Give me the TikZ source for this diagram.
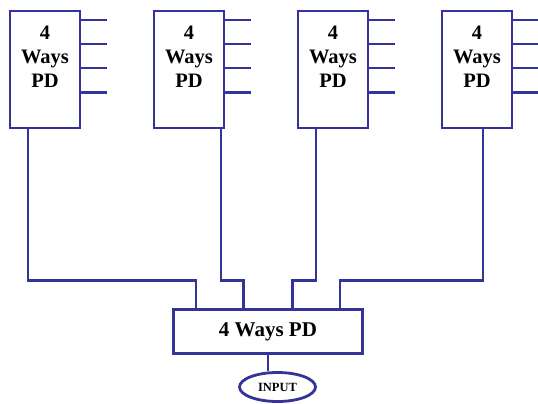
\documentclass[tikz,border=0pt]{standalone}
\usepackage{fontspec}
\setmainfont{Liberation Serif}
\usetikzlibrary{positioning,shapes.geometric}
\definecolor{pdblue}{RGB}{51,51,153}

\begin{document}
\begin{tikzpicture}[x=1pt,y=-1pt,line width=2.8pt]
  \tikzstyle{pdbox}=[draw=pdblue,rectangle,minimum width=70pt,minimum height=117pt,inner sep=0pt]
  \tikzstyle{pdtext}=[align=center,inner sep=0pt,font=\fontsize{20.5}{24}\selectfont\bfseries]
  \tikzstyle{wire}=[draw=pdblue]
\useasboundingbox (0,0) rectangle (538,404);
\node[pdbox] (pd1) at (45,69.5) {};
\node[pdbox] (pd2) at (189,69.5) {};
\node[pdbox] (pd3) at (333,69.5) {};
\node[pdbox] (pd4) at (477,69.5) {};
\node[pdtext] (t1) [below=15pt of pd1.north] {4\\Ways\\PD};
\node[pdtext] (t2) [below=15pt of pd2.north] {4\\Ways\\PD};
\node[pdtext] (t3) [below=15pt of pd3.north] {4\\Ways\\PD};
\node[pdtext] (t4) [below=15pt of pd4.north] {4\\Ways\\PD};
\node[pdbox,minimum width=189pt,minimum height=44pt,font=\fontsize{21}{24}\selectfont\bfseries] (main) at (268,331.5) {4 Ways PD};
\node[draw=pdblue,ellipse,minimum width=76pt,minimum height=29pt,inner sep=0pt,font=\fontsize{12.5}{14}\selectfont\bfseries] (in) at (277.5,387) {INPUT};
% outputs
\foreach \i in {1,...,4}
  \foreach \k in {0,...,3}
    \draw[wire] ([yshift=-10.5pt-24pt*\k]pd\i.north east) -- ++(26,0);
% feeds
\foreach \i/\a/\b in {1/-17/-72,2/32/-24.5,3/-17/24.5,4/6/72}
  \draw[wire] ([xshift=\a pt]pd\i.south) |- ([xshift=\b pt,yshift=27.5pt]main.north) -- ([xshift=\b pt]main.north);
\draw[wire] (main.south) -- (main.south |- in.north);
\end{tikzpicture}
\end{document}
